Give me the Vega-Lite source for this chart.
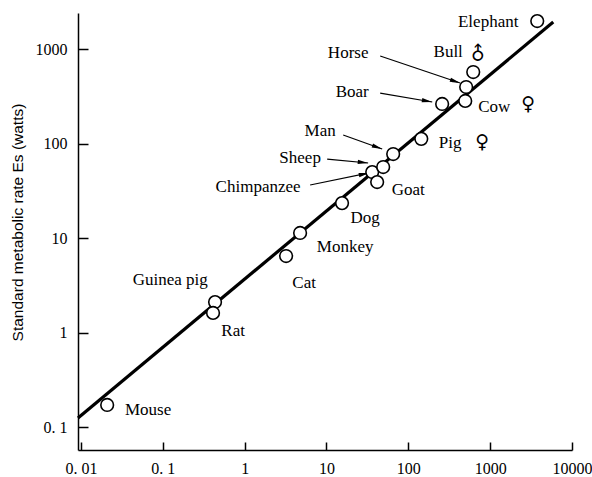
{
  "$schema": "https://vega.github.io/schema/vega-lite/v6.json",
  "width": 494,
  "height": 437,
  "autosize": "none",
  "padding": {"left": 78, "top": 13, "right": 20, "bottom": 27},
  "background": "white",
  "config": {
    "view": {"stroke": null},
    "font": "Liberation Serif"
  },
  "datasets": {
    "fit": [
      {"mass": 0.0092, "rate": 0.1245},
      {"mass": 5900, "rate": 1930}
    ],
    "animals": [
      {"animal": "Mouse", "mass": 0.0209, "rate": 0.171},
      {"animal": "Guinea pig", "mass": 0.435, "rate": 2.1},
      {"animal": "Rat", "mass": 0.411, "rate": 1.61},
      {"animal": "Cat", "mass": 3.21, "rate": 6.45},
      {"animal": "Monkey", "mass": 4.76, "rate": 11.3},
      {"animal": "Dog", "mass": 15.5, "rate": 23.4},
      {"animal": "Chimpanzee", "mass": 36.2, "rate": 49.9},
      {"animal": "Goat", "mass": 41.6, "rate": 39.1},
      {"animal": "Sheep", "mass": 49.3, "rate": 56.4},
      {"animal": "Man", "mass": 65.3, "rate": 77.4},
      {"animal": "Pig", "mass": 144, "rate": 112},
      {"animal": "Boar", "mass": 259, "rate": 262},
      {"animal": "Cow", "mass": 496, "rate": 282},
      {"animal": "Horse", "mass": 509, "rate": 396},
      {"animal": "Bull", "mass": 621, "rate": 571},
      {"animal": "Elephant", "mass": 3760, "rate": 1977}
    ],
    "labels": [
      {"text": "Elephant", "mass": 946, "rate": 1930},
      {"text": "Bull", "mass": 307, "rate": 929},
      {"text": "Horse", "mass": 18.4, "rate": 907},
      {"text": "Boar", "mass": 20.6, "rate": 351},
      {"text": "Cow", "mass": 1122, "rate": 243},
      {"text": "Man", "mass": 8.36, "rate": 136},
      {"text": "Pig", "mass": 325, "rate": 101},
      {"text": "Sheep", "mass": 4.76, "rate": 70.3},
      {"text": "Chimpanzee", "mass": 1.46, "rate": 34.7},
      {"text": "Goat", "mass": 99.5, "rate": 32.2},
      {"text": "Dog", "mass": 29.7, "rate": 16.3},
      {"text": "Monkey", "mass": 16.9, "rate": 8.04},
      {"text": "Cat", "mass": 5.33, "rate": 3.34},
      {"text": "Guinea pig", "mass": 0.123, "rate": 3.6},
      {"text": "Rat", "mass": 0.723, "rate": 1.04},
      {"text": "Mouse", "mass": 0.0661, "rate": 0.151}
    ],
    "male": [
      {"text": "♂", "mass": 714, "rate": 890}
    ],
    "female": [
      {"text": "♀", "mass": 2918, "rate": 262},
      {"text": "♀", "mass": 800, "rate": 104}
    ],
    "arrows": [
      {"label": "Horse", "mass": 45.3, "rate": 843, "mass2": 430, "rate2": 437, "heading": 108.6},
      {"label": "Boar", "mass": 45.3, "rate": 342, "mass2": 196, "rate2": 275, "heading": 99.8},
      {"label": "Man", "mass": 16.0, "rate": 123, "mass2": 47.9, "rate2": 87.5, "heading": 109.7},
      {"label": "Sheep", "mass": 10.2, "rate": 68.5, "mass2": 32.3, "rate2": 62.2, "heading": 95.6},
      {"label": "Chimpanzee", "mass": 6.31, "rate": 36.4, "mass2": 33.2, "rate2": 48.8, "heading": 78.5}
    ]
  },
  "encoding": {
    "x": {
      "field": "mass",
      "type": "quantitative",
      "scale": {"type": "log", "domain": [0.0092, 10000], "nice": false},
      "axis": {
        "title": null,
        "values": [0.01, 0.1, 1, 10, 100, 1000, 10000],
        "labelExpr": "datum.value == 0.01 ? '0. 01' : datum.value < 1 ? '0. 1' : format(datum.value, 'd')",
        "grid": false,
        "domainColor": "black",
        "domainWidth": 1.5,
        "tickColor": "black",
        "tickWidth": 1.5,
        "tickSize": -8,
        "labelPadding": 18,
        "labelFont": "Liberation Serif",
        "labelFontSize": 16,
        "labelColor": "black",
        "labelFlush": false
      }
    },
    "y": {
      "field": "rate",
      "type": "quantitative",
      "scale": {"type": "log", "domain": [0.0571, 2405], "nice": false},
      "axis": {
        "title": "Standard metabolic rate Es (watts)",
        "values": [0.1, 1, 10, 100, 1000],
        "labelExpr": "datum.value < 1 ? '0. 1' : format(datum.value, 'd')",
        "grid": false,
        "domainColor": "black",
        "domainWidth": 1.5,
        "tickColor": "black",
        "tickWidth": 1.5,
        "tickSize": -10,
        "labelPadding": 21,
        "labelFont": "Liberation Serif",
        "labelFontSize": 16,
        "labelColor": "black",
        "labelFlush": false,
        "titleFont": "Liberation Sans",
        "titleFontSize": 15.5,
        "titleFontWeight": "normal",
        "titleColor": "black",
        "titleX": -61,
        "titleY": 209,
        "titleAlign": "center",
        "titleBaseline": "middle",
        "titleAngle": -90
      }
    }
  },
  "layer": [
    {
      "data": {"name": "fit"},
      "mark": {"type": "line", "color": "black", "strokeWidth": 3.2}
    },
    {
      "data": {"name": "arrows"},
      "mark": {"type": "rule", "color": "black", "strokeWidth": 1.2},
      "encoding": {
        "x2": {"field": "mass2"},
        "y2": {"field": "rate2"}
      }
    },
    {
      "data": {"name": "arrows"},
      "mark": {"type": "point", "shape": "M0,0L0.35,1.7L-0.35,1.7Z", "filled": true, "color": "black", "size": 150, "opacity": 1},
      "encoding": {
        "x": {"field": "mass2", "type": "quantitative"},
        "y": {"field": "rate2", "type": "quantitative"},
        "angle": {"field": "heading", "type": "quantitative", "scale": null}
      }
    },
    {
      "data": {"name": "animals"},
      "mark": {"type": "point", "shape": "circle", "filled": true, "fill": "white", "stroke": "black", "strokeWidth": 1.6, "size": 160, "opacity": 1}
    },
    {
      "data": {"name": "labels"},
      "mark": {"type": "text", "font": "Liberation Serif", "fontSize": 17, "color": "black", "align": "center", "baseline": "middle"},
      "encoding": {"text": {"field": "text"}}
    },
    {
      "data": {"name": "male"},
      "mark": {"type": "text", "font": "DejaVu Sans", "fontSize": 19, "color": "black", "align": "center", "baseline": "middle", "angle": 315},
      "encoding": {"text": {"field": "text"}}
    },
    {
      "data": {"name": "female"},
      "mark": {"type": "text", "font": "DejaVu Sans", "fontSize": 19, "color": "black", "align": "center", "baseline": "middle"},
      "encoding": {"text": {"field": "text"}}
    }
  ]
}
